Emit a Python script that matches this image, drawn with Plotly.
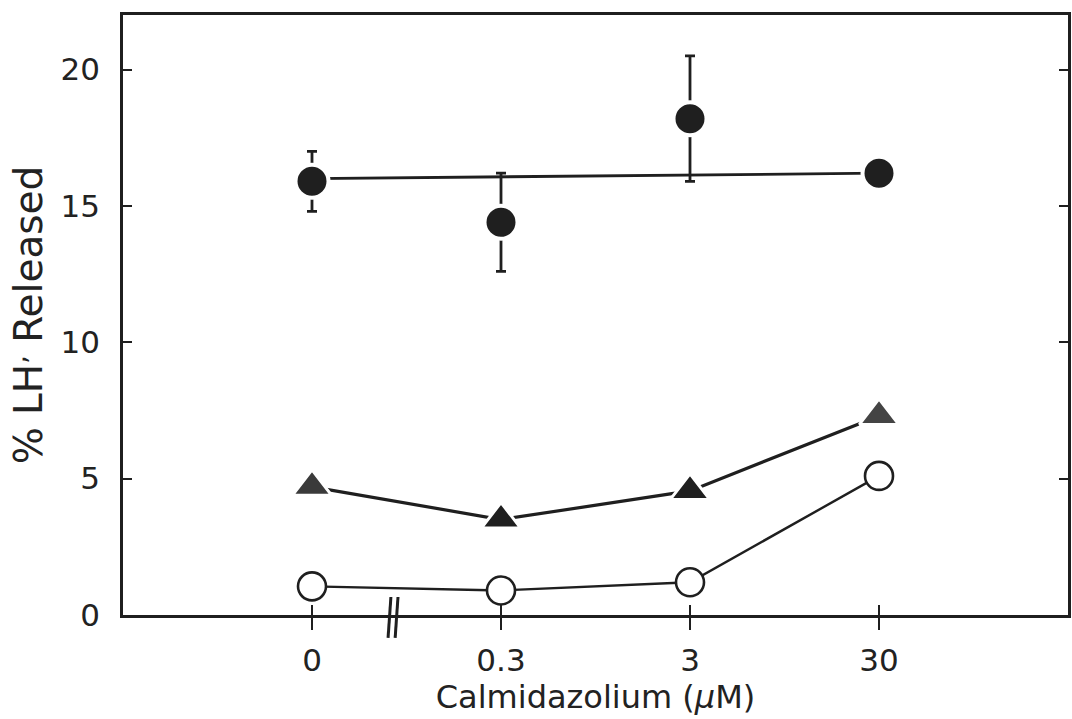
import plotly.graph_objects as go

# ---- data ----
categories = ["0", "0.3", "3", "30"]
x_pos = [0, 1, 2, 3]

filled_circle = [15.9, 14.4, 18.2, 16.2]
filled_circle_err = [1.1, 1.8, 2.3, 0.0]
filled_circle_fit = [16.0, 16.07, 16.13, 16.2]

triangle = [4.7, 3.5, 4.55, 7.3]
open_circle = [1.05, 0.9, 1.2, 5.1]

y_ticks = [0, 5, 10, 15, 20]

INK = "#1f1f1f"
FONT = "DejaVu Sans"

fig = go.Figure()

# horizontal fitted line for filled circles
fig.add_trace(go.Scatter(x=x_pos, y=filled_circle_fit, mode="lines",
                         line=dict(color=INK, width=2.8), showlegend=False,
                         hoverinfo="skip"))
# filled circles with error bars
fig.add_trace(go.Scatter(
    x=x_pos, y=filled_circle, mode="markers",
    marker=dict(symbol="circle", size=33, color=INK,
                line=dict(color="white", width=4)),
    error_y=dict(type="data", array=filled_circle_err, visible=True,
                 color=INK, thickness=2.8, width=5),
    showlegend=False))

# triangles
fig.add_trace(go.Scatter(
    x=x_pos, y=triangle, mode="lines+markers",
    line=dict(color=INK, width=3.2),
    marker=dict(symbol="triangle-up", size=34, color=["#3a3a3a", INK, INK, "#444444"],
                line=dict(color="white", width=3)),
    showlegend=False))

# open circles
fig.add_trace(go.Scatter(
    x=x_pos, y=open_circle, mode="lines+markers",
    line=dict(color=INK, width=2.4),
    marker=dict(symbol="circle", size=28, color="white",
                line=dict(color=INK, width=2.6)),
    showlegend=False))

# invisible trace to enable overlay axis with inside ticks (crossing ticks)
fig.add_trace(go.Scatter(x=x_pos, y=open_circle, mode="markers",
                         marker=dict(opacity=0), xaxis="x2",
                         showlegend=False, hoverinfo="skip"))

fig.update_layout(
    width=1072, height=719,
    margin=dict(l=123, r=1, t=15, b=104),
    paper_bgcolor="white", plot_bgcolor="white",
    font=dict(family=FONT, color="#222222", size=31),
    xaxis=dict(range=[-1, 4], tickmode="array", tickvals=x_pos, ticktext=categories,
               ticks="outside", ticklen=12, tickwidth=2, tickcolor=INK,
               showline=True, linecolor=INK, linewidth=2.5, mirror=True,
               showgrid=False, zeroline=False, ticklabelstandoff=4,
               tickfont=dict(size=31),
               title=dict(text="Calmidazolium (<i>μ</i>M)", font=dict(size=32), standoff=2)),
    xaxis2=dict(range=[-1, 4], overlaying="x", side="bottom", tickmode="array",
                tickvals=x_pos, ticks="inside", ticklen=10, tickwidth=2, tickcolor=INK,
                showticklabels=False, showline=False, showgrid=False, zeroline=False),
    yaxis=dict(range=[0, 22], tickmode="array", tickvals=y_ticks,
               ticks="inside", ticklen=9, tickwidth=2, tickcolor=INK,
               showline=True, linecolor=INK, linewidth=2.5, mirror="ticks",
               showgrid=False, zeroline=False, ticklabelstandoff=14,
               tickfont=dict(size=31),
               title=dict(text="% LH<sup>,</sup> Released", font=dict(size=39), standoff=6)),
)

# axis break mark
for xp in (0.2815, 0.289):
    fig.add_shape(type="line", xref="paper", yref="paper",
                  x0=xp - 0.001, x1=xp + 0.002, y0=-0.038, y1=0.03,
                  line=dict(color=INK, width=3))

fig.write_html("out.html")
